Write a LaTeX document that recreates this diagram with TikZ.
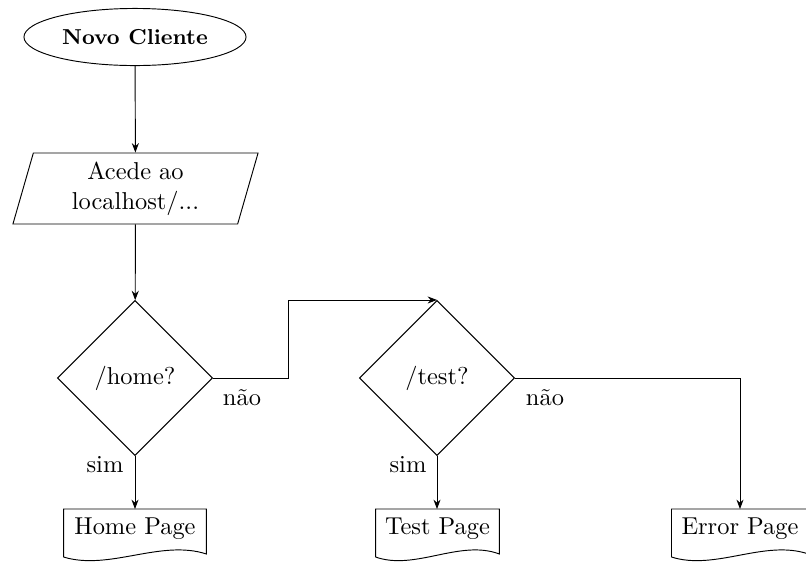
\documentclass[tikz,border=0pt]{standalone}
\usetikzlibrary{shapes.geometric,arrows.meta,calc}
% outline of a document symbol around a plain rectangular node: flat top, wavy bottom
\newcommand\docoutline[1]{%
  \draw ($(#1.south west)+(0,9)$) -- (#1.north west) -- (#1.north east)
    -- ($(#1.south east)+(0,6)$)
    .. controls ($(#1.south west)!0.68!(#1.south east)+(0,-9)$)
       and ($(#1.south west)!0.32!(#1.south east)+(0,23)$)
    .. ($(#1.south west)+(0,9)$);}
\begin{document}
\begin{tikzpicture}[x=0.4255pt,y=-0.4255pt,
  every node/.style={font=\fontsize{10.4}{12.6}\selectfont},
  startbox/.style={draw,ellipse,minimum width=94.5pt,minimum height=24.3pt,inner sep=0pt,
    font=\fontsize{9.2}{11}\selectfont\bfseries},
  iobox/.style={draw,trapezium,trapezium left angle=70.6,trapezium right angle=109.4,
    trapezium stretches body,minimum width=104.3pt,minimum height=30.2pt,align=center,inner sep=1pt},
  decision/.style={draw,diamond,aspect=1,minimum width=66pt,minimum height=66pt,inner sep=0pt},
  docbox/.style={rectangle,anchor=north,inner sep=0pt,minimum height=16.2pt},
  arr/.style={-{Stealth[length=4pt,width=3pt]}},
  lbl/.style={inner sep=0pt}]
  \clip (0,0) rectangle (806,561);
  \useasboundingbox (0,0) rectangle (806,561);

  \node[startbox] (start) at (135,37) {Novo Cliente};
  \node[iobox] (acede) at (135.5,188.5) {Acede ao\\localhost/...};
  \node[decision] (home) at (135,378) {/home?};
  \node[decision] (test) at (437,378) {/test?};
  \node[docbox,minimum width=60.4pt] (homepg) at (135,509) {Home Page};
  \node[docbox,minimum width=52.3pt] (testpg) at (437.5,509) {Test Page};
  \node[docbox,minimum width=57.9pt] (errpg) at (740,509) {Error Page};
  \docoutline{homepg}
  \docoutline{testpg}
  \docoutline{errpg}
  \coordinate (jog) at (288,378);

  \draw[arr] (start) -- (acede);
  \draw[arr] (acede) -- (home);
  \draw[arr] (home.east) -- (jog) |- (test.north);
  \draw[arr] (home.south) -- (homepg.north);
  \draw[arr] (test.south) -- (test.south |- testpg.north);
  \draw[arr] (test.east) -| (errpg.north);

  \node[lbl] (n1) at (242,398) {não};
  \node[lbl] (n2) at (545,398) {não};
  \node[lbl] (s1) at (105,465) {sim};
  \node[lbl] (s2) at (408,465) {sim};
\end{tikzpicture}
\end{document}
